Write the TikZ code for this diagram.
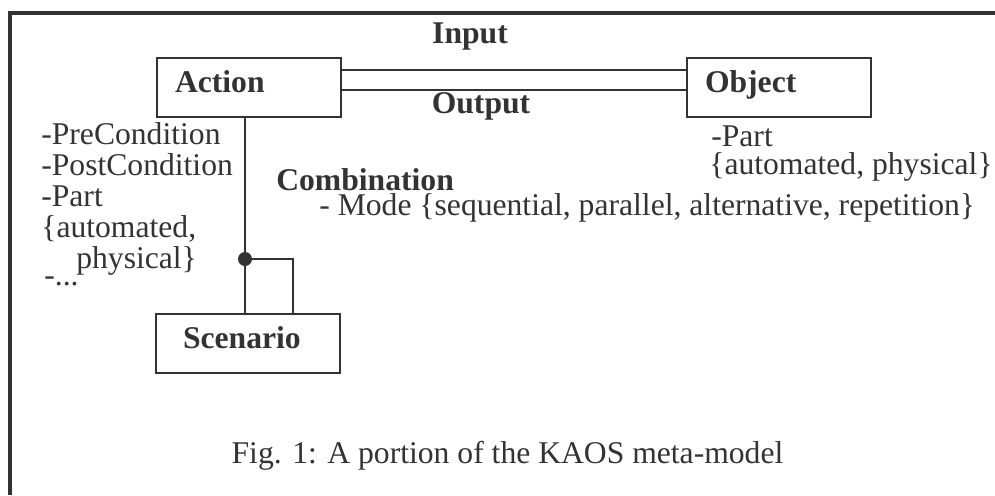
\documentclass[tikz,border=0pt]{standalone}
\usepackage{fontspec}
\setmainfont{Liberation Serif}
\definecolor{ink}{gray}{0.2}
\begin{document}
\begin{tikzpicture}[
	font=\fontsize{18}{20}\selectfont, color=ink, line width=1.5pt,
	entity/.style={draw, rectangle, font=\fontsize{18}{20}\selectfont\bfseries,
		minimum width=3.68cm, minimum height=1.18cm, text width=2.96cm, align=left,
		inner xsep=0.36cm, text height=0.44cm, text depth=0.26cm},
	attr/.style={anchor=base west, inner sep=0},
	rolename/.style={anchor=base, inner sep=0, font=\fontsize{18}{20}\selectfont\bfseries}
	]
			\useasboundingbox (0,0) rectangle (19.9,-9.9);
			\draw[line width=2pt] (19.9,-0.26) -- (0.2,-0.26) -- (0.2,-9.9);

			\node[entity] (action) at (4.98,-1.75) {Action};
			\node[entity] (object) at (15.58,-1.75) {Object};
			\node[entity, inner xsep=0.54cm, text width=2.6cm] (scenario) at (4.96,-6.87) {Scenario};

			\node[rolename] (input) at (9.4,-0.86) {Input};
			\node[rolename] (output) at (9.62,-2.26) {Output};
			\draw ([yshift=0.35cm]action.east) -- ([yshift=0.35cm]object.west);
			\draw ([yshift=-0.05cm]action.east) -- ([yshift=-0.05cm]object.west);

			\node[attr] (pre) at (0.8,-2.88) {-PreCondition};
			\node[attr] (post) at (0.8,-3.5) {-PostCondition};
			\node[attr] (apart) at (0.8,-4.12) {-Part};
			\node[attr] (aauto) at (0.8,-4.74) {\{automated,};
			\node[attr] (aphys) at (1.5,-5.36) {physical\}};
			\node[attr] (amore) at (0.86,-5.7) {-...};

			\node[attr] (opart) at (14.2,-2.92) {-Part};
			\node[attr] (ophys) at (14.16,-3.48) {\{automated, physical\}};

			\coordinate (combo) at (4.9,-5.18);
			\draw (action.south -| combo) -- (scenario.north -| combo);
			\draw (combo) -| ([xshift=0.96cm]scenario.north -| combo);
			\fill (combo) circle (0.14);
			\node[attr, font=\fontsize{18}{20}\selectfont\bfseries] (comb) at (5.5,-3.8) {Combination};
			\node[attr] (mode) at (6.36,-4.3) {- Mode \{sequential, parallel, alternative, repetition\}};

			\node[anchor=base, inner sep=0] (caption) at (10.15,-9.26) {Fig. 1: A portion of the KAOS meta-model};
	\end{tikzpicture}
\end{document}
